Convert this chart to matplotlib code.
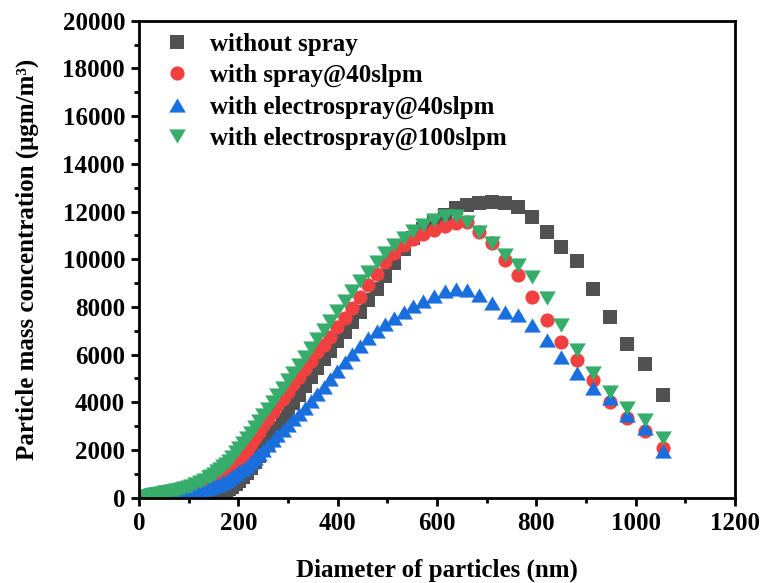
import matplotlib
matplotlib.use("Agg")
import matplotlib.pyplot as plt
from matplotlib.ticker import MultipleLocator

# Times-like bold font everywhere
plt.rcParams['font.family'] = ['Liberation Serif', 'DejaVu Serif']
plt.rcParams['font.weight'] = 'bold'
plt.rcParams['axes.labelweight'] = 'bold'

# Particle diameters (nm), bin midpoints (every other bin below 140 nm)
diameter = [
    14.1, 15.1, 16.3, 17.5, 18.8, 20.2, 21.7, 23.3, 25.0, 26.9,
    28.9, 31.1, 33.4, 35.9, 38.5, 41.4, 44.5, 47.8, 51.4, 55.2,
    59.4, 63.8, 68.5, 73.7, 79.1, 85.1, 91.4, 98.2, 105.5, 113.4,
    121.9, 131.0,
    140.7, 145.9, 151.2, 156.8, 162.5, 168.5, 174.7, 181.1, 187.7, 194.6,
    201.7, 209.1, 216.7, 224.7, 232.9, 241.4, 250.3, 259.5, 269.0, 278.8,
    289.0, 299.6, 310.6, 322.0, 333.8, 346.0, 358.7, 371.8, 385.4, 399.5,
    414.2, 429.4, 445.1, 461.4, 478.3, 495.8, 514.0, 532.8, 552.3, 572.5,
    593.5, 615.3, 637.8, 661.2, 685.4, 710.5, 736.5, 763.5, 791.5, 820.5,
    850.5, 881.7, 914.0, 947.5, 982.2, 1018.2, 1055.5,
]

# Mass concentration (ugm/m3) for each case
without_spray = [
    0, 0, 0, 0, 0, 0, 0, 0, 0, 0,
    0, 0, 0, 0, 0, 0, 0, 0, 0, 0,
    0, 0, 0, 0, 0, 0, 0, 0, 5, 10,
    15, 25,
    40, 60, 80, 110, 150, 200, 270, 350, 450, 570,
    700, 860, 1050, 1260, 1500, 1750, 2000, 2290, 2600, 2920,
    3250, 3600, 3950, 4320, 4700, 5080, 5450, 5800, 6150, 6550,
    6950, 7380, 7800, 8270, 8750, 9300, 9850, 10420, 10900, 11250,
    11550, 11850, 12150, 12270, 12340, 12410, 12370, 12180, 11760, 11150,
    10520, 9920, 8750, 7560, 6440, 5610, 4310,
]

spray_40 = [
    30, 30, 30, 30, 30, 30, 30, 30, 30, 30,
    30, 30, 30, 30, 30, 30, 30, 30, 30, 35,
    40, 50, 60, 70, 90, 110, 140, 170, 210, 260,
    310, 360,
    400, 470, 560, 650, 760, 870, 1000, 1140, 1280, 1440,
    1600, 1800, 2000, 2240, 2500, 2770, 3050, 3320, 3600, 3870,
    4150, 4440, 4750, 5070, 5400, 5750, 6100, 6420, 6750, 7150,
    7550, 7970, 8400, 8900, 9400, 9880, 10250, 10580, 10850, 11060,
    11230, 11380, 11500, 11570, 11150, 10670, 9970, 9340, 8430, 7450,
    6540, 5770, 4930, 4030, 3330, 2810, 2070,
]

electrospray_40 = [
    150, 155, 155, 155, 155, 155, 155, 155, 155, 155,
    155, 155, 155, 155, 155, 150, 150, 150, 150, 145,
    145, 140, 140, 140, 140, 160, 180, 200, 230, 260,
    300, 345,
    400, 440, 490, 540, 590, 650, 720, 800, 890, 990,
    1100, 1210, 1340, 1490, 1660, 1840, 2020, 2210, 2410, 2620,
    2830, 3050, 3280, 3520, 3780, 4050, 4340, 4650, 4990, 5330,
    5690, 6040, 6380, 6700, 7000, 7280, 7550, 7800, 8030, 8250,
    8460, 8660, 8740, 8700, 8500, 8150, 7800, 7660, 7240, 6610,
    5910, 5220, 4590, 4170, 3470, 2910, 1970,
]

electrospray_100 = [
    20, 30, 40, 50, 60, 70, 80, 90, 100, 110,
    120, 130, 140, 150, 160, 175, 190, 205, 220, 235,
    250, 270, 290, 310, 340, 370, 410, 450, 500, 560,
    640, 740,
    860, 930, 1010, 1100, 1200, 1310, 1430, 1560, 1720, 1900,
    2080, 2280, 2490, 2720, 2960, 3210, 3470, 3740, 4020, 4310,
    4610, 4920, 5240, 5570, 5910, 6270, 6640, 7020, 7420, 7830,
    8250, 8670, 9080, 9480, 9870, 10240, 10580, 10900, 11180, 11430,
    11650, 11820, 11800, 11570, 11150, 10670, 10180, 9760, 9270, 8360,
    7240, 6190, 5220, 4440, 3750, 3260, 2490,
]

labels = ['without spray', 'with spray@40slpm',
          'with electrospray@40slpm', 'with electrospray@100slpm']

# slightly flattened triangles, like Origin's
tri_up = [(0, 0.85), (-1, -0.85), (1, -0.85)]
tri_down = [(0, -0.85), (-1, 0.85), (1, 0.85)]

fig = plt.figure(figsize=(7.6, 5.83), dpi=100)
ax = fig.add_axes([0.1829, 0.1463, 0.7842, 0.8182])

ax.plot(diameter, without_spray, linestyle='none', marker='s', ms=9.6,
        mew=0, color='#515151', label=labels[0])
ax.plot(diameter, spray_40, linestyle='none', marker='o', ms=10.2,
        mew=0, color='#F14040', label=labels[1])
ax.plot(diameter, electrospray_40, linestyle='none', marker=tri_up, ms=12,
        mew=0, color='#1A6FDF', label=labels[2])
ax.plot(diameter, electrospray_100, linestyle='none', marker=tri_down, ms=12,
        mew=0, color='#37AD6B', label=labels[3])

ax.set_xlim(0, 1200)
ax.set_ylim(0, 20000)
ax.xaxis.set_major_locator(MultipleLocator(200))
ax.xaxis.set_minor_locator(MultipleLocator(100))
ax.yaxis.set_major_locator(MultipleLocator(2000))
ax.yaxis.set_minor_locator(MultipleLocator(1000))

for side in ['left', 'right', 'top', 'bottom']:
    ax.spines[side].set_linewidth(2.0)
ax.tick_params(which='major', direction='out', length=6, width=2,
               labelsize=18, pad=4)
ax.tick_params(which='minor', direction='out', length=3.5, width=2)
for lab in ax.get_xticklabels() + ax.get_yticklabels():
    lab.set_fontweight('bold')

ax.set_xlabel('Diameter of particles (nm)', fontsize=18, fontweight='bold',
              labelpad=17)
ax.set_ylabel('Particle mass concentration (μgm/m³)', fontsize=18,
              fontweight='bold', labelpad=17)

leg = ax.legend(loc='upper left', bbox_to_anchor=(0.042, 0.975),
                frameon=False, borderpad=0, borderaxespad=0,
                handlelength=1.0, handletextpad=0.85, labelspacing=0.33,
                prop={'size': 18, 'weight': 'bold'})

fig.savefig('out.png', dpi=100)
